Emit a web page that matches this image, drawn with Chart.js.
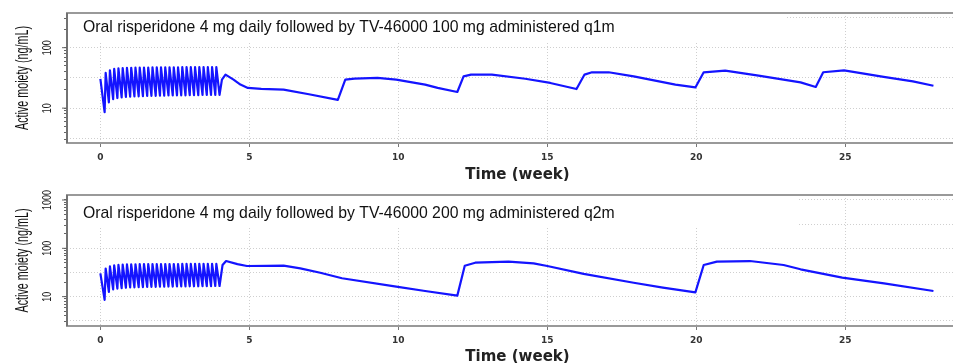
<!DOCTYPE html>
<html>
<head>
<meta charset="utf-8">
<script src="https://cdn.jsdelivr.net/npm/chart.js@4/dist/chart.umd.min.js"></script>
<style>
html, body { margin: 0; padding: 0; background: #fff; overflow: hidden; width: 953px; height: 363px; }
.panel { width: 985px; }
canvas { display: block; }
</style>
</head>
<body>
<div class="panel"><canvas id="q1m" width="985" height="181"></canvas></div>
<div class="panel"><canvas id="q2m" width="985" height="182"></canvas></div>
<script>
// oral risperidone phase, one peak and one trough per day...
var oralPeak = [30.4, 38.2, 42.2, 44.5, 45.5, 46.0, 46.4, 46.6, 46.8, 47.0, 47.0, 47.0, 47.2, 47.2,
    47.2, 47.4, 47.4, 47.4, 47.4, 47.6, 47.6, 47.6, 47.6, 47.6, 47.8, 47.8, 47.8, 47.8];
var oralTrough = [8.6, 12.5, 14.1, 14.7, 15.0, 15.3, 15.5, 15.6, 15.7, 15.8, 15.9, 16.0, 16.0, 16.1,
    16.1, 16.2, 16.2, 16.3, 16.3, 16.3, 16.4, 16.4, 16.4, 16.5, 16.5, 16.5, 16.6, 16.6];

// TV-46000 100 mg q1m...
var q1mWeek = [4.08, 4.2, 4.47, 4.7, 4.95, 5.4, 6.15, 7.0, 7.97, 8.22, 8.53, 9.3, 9.93, 10.9, 11.32,
    11.98, 12.19, 12.44, 13.14, 14.26, 15.1, 15.98, 16.25, 16.5, 17.06, 17.9, 19.3, 19.97, 20.25,
    20.97, 22.09, 23.5, 24.01, 24.26, 24.96, 26.29, 27.27, 27.96];
var q1mConc = [29.6, 35.9, 29.6, 24.5, 21.6, 20.9, 20.2, 17.0, 13.7, 29.6, 30.7, 31.6, 29.6, 24.5, 21.6,
    18.5, 33.6, 35.9, 35.9, 30.6, 26.1, 20.7, 35.9, 39.2, 39.2, 33.6, 24.5, 22.0, 39.2,
    41.7, 34.4, 26.7, 22.4, 39.2, 42.1, 32.9, 27.7, 23.5];

// TV-46000 200 mg q2m...
var q2mWeek = [4.1, 4.22, 4.6, 4.92, 5.59, 6.15, 6.71, 7.38, 8.11, 9.93, 10.9, 11.98, 12.23, 12.58,
    13.7, 14.54, 15.0, 16.22, 17.9, 18.88, 19.97, 20.25, 20.69, 21.8, 22.93, 23.5, 24.9, 26.3, 27.96];
var q2mConc = [45.0, 54.7, 47.0, 43.1, 43.3, 43.7, 38.6, 31.3, 24.0, 16.1, 13.1, 10.5, 43.7, 50.4,
    52.9, 49.0, 43.1, 29.5, 19.4, 15.4, 12.3, 45.2, 52.9, 54.6, 45.2, 36.8, 24.7, 18.9, 13.1];

var xTicks = [0, 5, 10, 15, 20, 25];
var yMinor = [3, 4, 5, 6, 7, 8, 9, 20, 30, 40, 50, 60, 70, 80, 90, 200, 300, 400, 500, 600, 700, 800, 900];
var yHalf = [3.162, 31.62, 316.2];
var yMajorTop = [10, 100];
var yMajorBottom = [10, 100, 1000];

var panels = [
    {id: 'q1m', title: 'Oral risperidone 4 mg daily followed by TV-46000 100 mg administered q1m',
        week: q1mWeek, conc: q1mConc, yMin: 2.65, yMax: 375, yMajor: yMajorTop,
        top: 13, axisH: 38, titleY: 28, boxRight: 785, boxBottom: 42},
    {id: 'q2m', title: 'Oral risperidone 4 mg daily followed by TV-46000 200 mg administered q2m',
        week: q2mWeek, conc: q2mConc, yMin: 2.47, yMax: 1269, yMajor: yMajorBottom,
        top: 14, axisH: 37, titleY: 33, boxRight: 798, boxBottom: 46}
];

var inList = function (list, v) {
    for (var i = 0; i < list.length; i++) {
        if (Math.abs(list[i] - v) < 1e-6) {
            return true;
        }
    }
    return false;
};

var buildSeries = function (week, conc) {
    var pts = [{x: 0, y: oralPeak[0]}];

    for (var d = 0; d < oralTrough.length; d++) {
        if (d > 0) {
            pts.push({x: d / 7 + 0.035, y: oralPeak[d]});
        }
        pts.push({x: (d + 1) / 7, y: oralTrough[d]});
    }

    for (var i = 0; i < week.length; i++) {
        pts.push({x: week[i], y: conc[i]});
    }
    return pts;
};

var makePanel = function (p) {

    var decor = {
        id: 'decor-' + p.id,
        afterDatasetsDraw: function (chart) {
            var ctx = chart.ctx, area = chart.chartArea;

            // legend-like title sits on a white box over the grid...
            ctx.save();
            ctx.fillStyle = '#fff';
            ctx.fillRect(area.left + 1, area.top + 1, p.boxRight - area.left, p.boxBottom - area.top);

            ctx.font = '16px "Liberation Sans", Arial, sans-serif';
            var size = 16 * 532 / ctx.measureText(p.title).width;
            ctx.font = size.toFixed(2) + 'px "Liberation Sans", Arial, sans-serif';
            ctx.fillStyle = '#111';
            ctx.textBaseline = 'middle';
            ctx.fillText(p.title, 83, p.titleY);
            ctx.restore();
        },
        afterDraw: function (chart) {
            var ctx = chart.ctx, area = chart.chartArea, y = chart.scales.y;

            ctx.save();
            ctx.strokeStyle = '#999';
            ctx.lineWidth = 2;
            ctx.strokeRect(area.left, area.top, area.right - area.left, area.bottom - area.top);

            ctx.strokeStyle = '#666';
            ctx.lineWidth = 1.5;
            ctx.beginPath();
            ctx.moveTo(area.left, area.top);
            ctx.lineTo(area.left, area.bottom);
            ctx.stroke();

            // major ticks a bit longer than the minor ones...
            ctx.lineWidth = 1;
            ctx.fillStyle = '#222';
            ctx.font = '12px "Liberation Sans", Arial, sans-serif';
            ctx.textAlign = 'center';
            ctx.textBaseline = 'middle';
            for (var i = 0; i < p.yMajor.length; i++) {
                var py = y.getPixelForValue(p.yMajor[i]);
                ctx.beginPath();
                ctx.moveTo(area.left - 5, py);
                ctx.lineTo(area.left, py);
                ctx.stroke();

                ctx.save();
                ctx.translate(48, py);
                ctx.rotate(-Math.PI / 2);
                ctx.scale(0.75, 1);
                ctx.fillText(String(p.yMajor[i]), 0, 0);
                ctx.restore();
            }

            // y title, narrow...
            var label = 'Active moiety (ng/mL)';
            ctx.font = '18px "Liberation Sans", Arial, sans-serif';
            ctx.fillStyle = '#111';
            var w = ctx.measureText(label).width;
            ctx.translate(23, (area.top + area.bottom) / 2);
            ctx.rotate(-Math.PI / 2);
            ctx.scale(104 / w, 1);
            ctx.fillText(label, 0, 0);
            ctx.restore();
        }
    };

    var yTicks = yMinor.concat(yHalf, p.yMajor).filter(function (v) {
        return v >= p.yMin && v <= p.yMax;
    }).sort(function (a, b) {
        return a - b;
    });

    return new Chart(document.getElementById(p.id), {
        type: 'line',
        data: {
            datasets: [{
                data: buildSeries(p.week, p.conc),
                borderColor: '#1414ff',
                borderWidth: 2.2,
                borderJoinStyle: 'round',
                pointRadius: 0,
                tension: 0,
                fill: false
            }]
        },
        options: {
            responsive: false,
            animation: false,
            devicePixelRatio: 1,
            layout: {padding: {top: p.top, right: 17, left: 0, bottom: 0}},
            plugins: {legend: {display: false}, tooltip: {enabled: false}},
            scales: {
                x: {
                    type: 'linear',
                    min: -1.12,
                    max: 29.12,
                    afterBuildTicks: function (scale) {
                        scale.ticks = xTicks.map(function (v) {
                            return {value: v};
                        });
                    },
                    afterFit: function (scale) {
                        scale.height = p.axisH;
                    },
                    grid: {color: '#cfcfcf', lineWidth: 1, tickColor: '#777', tickLength: 4},
                    border: {display: false, dash: [1, 2]},
                    ticks: {
                        color: '#333',
                        padding: 5.5,
                        maxRotation: 0,
                        font: {family: '"DejaVu Sans", Verdana, sans-serif', weight: 'bold', size: 9}
                    },
                    title: {
                        display: true,
                        text: 'Time (week)',
                        color: '#222',
                        padding: {top: 0, bottom: -1.5},
                        font: {family: '"DejaVu Sans", Verdana, sans-serif', weight: 'bold', size: 15, lineHeight: 1}
                    }
                },
                y: {
                    type: 'logarithmic',
                    min: p.yMin,
                    max: p.yMax,
                    afterBuildTicks: function (scale) {
                        scale.ticks = yTicks.map(function (v) {
                            return {value: v};
                        });
                    },
                    afterFit: function (scale) {
                        scale.width = 67;
                    },
                    grid: {
                        lineWidth: 1,
                        tickLength: 3,
                        color: function (c) {
                            var v = c.tick ? c.tick.value : 0;
                            return (inList(yHalf, v) || inList(p.yMajor, v)) ? '#cfcfcf' : 'rgba(0,0,0,0)';
                        },
                        tickColor: function (c) {
                            var v = c.tick ? c.tick.value : 0;
                            return inList(yHalf, v) ? 'rgba(0,0,0,0)' : '#666';
                        }
                    },
                    border: {display: false, dash: [1, 2]},
                    ticks: {display: false}
                }
            }
        },
        plugins: [decor]
    });
};

for (var k = 0; k < panels.length; k++) {
    makePanel(panels[k]);
}
</script>
</body>
</html>
